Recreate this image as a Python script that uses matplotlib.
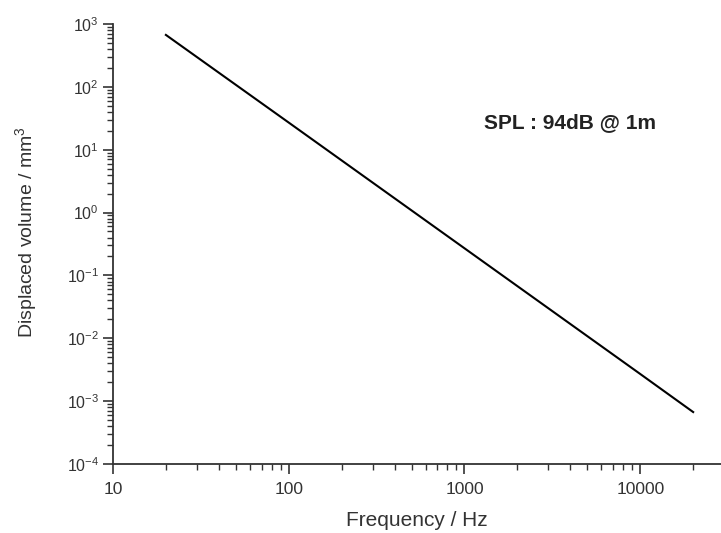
import matplotlib
matplotlib.use("Agg")
import matplotlib.pyplot as plt

# values (log-log straight line)
freq = [20, 100, 1000, 10000, 20000]
volume = [670, 27, 0.27, 0.0027, 0.00067]
note = "SPL : 94dB @ 1m"

plt.rcParams['font.family'] = ['Liberation Sans', 'DejaVu Sans']
plt.rcParams['mathtext.fontset'] = 'custom'
plt.rcParams['mathtext.rm'] = 'Liberation Sans'
plt.rcParams['mathtext.it'] = 'Liberation Sans:italic'
plt.rcParams['mathtext.bf'] = 'Liberation Sans:bold'
plt.rcParams['axes.unicode_minus'] = False

fig = plt.figure(figsize=(7.21, 5.33), dpi=100)
ax = fig.add_axes([0.1567, 0.1295, 0.8433, 0.8255])

ax.plot(freq, volume, color='black', lw=1.5)
ax.set_xscale('log')
ax.set_yscale('log')
ax.set_xlim(10, 28800)
ax.set_ylim(1e-4, 1e3)

ax.spines['top'].set_visible(False)
ax.spines['right'].set_visible(False)
for s in ('left', 'bottom'):
    ax.spines[s].set_linewidth(1.3)
    ax.spines[s].set_color('#333333')

ax.set_xticks([10, 100, 1000, 10000])
ax.set_xticklabels(['10', '100', '1000', '10000'])
ax.xaxis.set_minor_formatter(plt.NullFormatter())
ax.yaxis.set_minor_formatter(plt.NullFormatter())
ax.tick_params(which='major', direction='out', length=7, width=1.2, color='#333333')
ax.tick_params(which='minor', direction='out', length=4, width=1.0, color='#333333')
ax.tick_params(axis='x', labelsize=12.5, pad=6, labelcolor='#333333')
ax.tick_params(axis='y', labelsize=11.5, pad=3, labelcolor='#333333')

ax.set_xlabel('Frequency / Hz', fontsize=15, color='#333333', labelpad=10)
ax.set_ylabel('Displaced volume / mm$^3$', fontsize=14, color='#333333')
ax.yaxis.set_label_coords(-0.121, 0.527)

ax.text(0.61, 0.775, note, transform=ax.transAxes, fontsize=15,
        fontweight='bold', color='#222222', va='center', ha='left')

fig.savefig('out.png', dpi=100)
